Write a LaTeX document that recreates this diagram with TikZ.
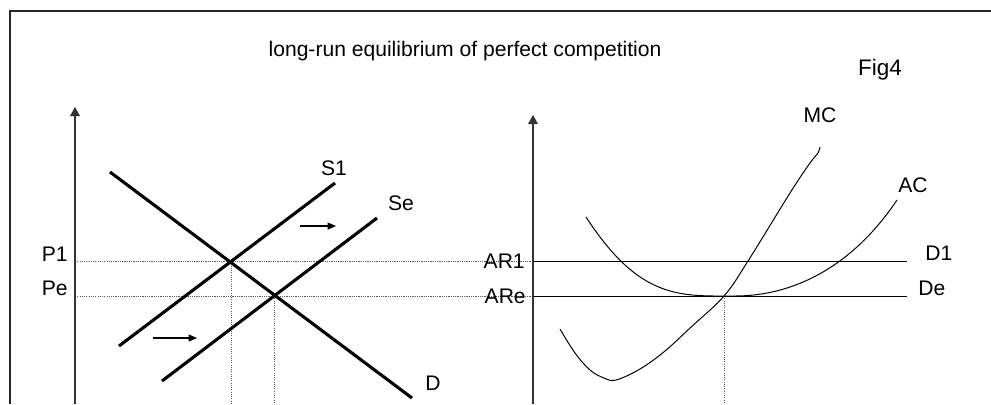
\documentclass[tikz,border=0pt]{standalone}
\usepackage{fontspec}
\setmainfont{Liberation Sans}
\usetikzlibrary{arrows.meta}

\begin{document}
\begin{tikzpicture}[x=0.025cm, y=-0.025cm, every node/.style={font=\fontsize{15}{18}\selectfont, inner sep=0pt},
	axis/.style={line width=0.9pt, draw=black!80, -{Triangle[length=6.5pt, width=7pt]}},
	market/.style={line width=2.2pt},
	shiftarrow/.style={line width=0.75pt, -{Triangle[length=6pt, width=5pt]}},
	cost/.style={line width=0.7pt},
	guide/.style={line width=0.6pt, draw=black!65, dash pattern=on 0.8pt off 0.8pt}]
	\useasboundingbox (0,0) rectangle (991,404);
	\draw[line width=1.4pt, draw=black!85] (10,404) -- (10,11) -- (991,11);
	\node[anchor=base] (title) at (465,56) {long-run equilibrium of perfect competition};
	\node[anchor=base, font=\fontsize{16}{19}\selectfont] (fig) at (880,75) {Fig4};
	\coordinate (O1) at (75,404);
	\coordinate (Y1) at (75,107);
	\coordinate (E1) at (231,261);
	\coordinate (Ee) at (274,296);
	\coordinate (O2) at (533,404);
	\coordinate (Y2) at (533,115);
	\coordinate (A1) at (533,261);
	\coordinate (Ae) at (533,296);
	\coordinate (B1) at (907,261);
	\coordinate (Be) at (907,296);
	\coordinate (Q2) at (724,296);
	\draw[guide] (O1 |- E1) -- (A1);
	\draw[guide] (O1 |- Ee) -- (Ae);
	\draw[guide] (E1) -- (E1 |- O1);
	\draw[guide] (Ee) -- (Ee |- O1);
	\draw[guide] (Q2) -- (Q2 |- O2);
	\draw[axis] (O1) -- (Y1);
	\draw[axis] (O2) -- (Y2);
	\coordinate (d0) at (110,172);
	\coordinate (d1) at (412,398);
	\coordinate (s0) at (119,346);
	\coordinate (s1) at (335,183);
	\coordinate (t0) at (162,381);
	\coordinate (t1) at (377,218);
	\draw[market] (d0) -- (d1);
	\draw[market] (s0) -- (s1);
	\draw[market] (t0) -- (t1);
	\coordinate (u0) at (300,226);
	\coordinate (u1) at (336,226);
	\coordinate (v0) at (153,338);
	\coordinate (v1) at (197,338);
	\draw[shiftarrow] (u0) -- (u1);
	\draw[shiftarrow] (v0) -- (v1);
	\node[anchor=base] (lS1) at (334,175) {S1};
	\node[anchor=base] (lSe) at (401,210) {Se};
	\node[anchor=base west] (lD) at (425,390) {D};
	\node[anchor=base east] (lP1) at (68,261) {P1};
	\node[anchor=base east] (lPe) at (68,295) {Pe};
	\draw[cost] (A1) -- (B1);
	\draw[cost] (Ae) -- (Be);
	\node[anchor=base east] (lAR1) at (525,268) {AR1};
	\node[anchor=base east] (lARe) at (526,303) {ARe};
	\node[anchor=base west] (lD1) at (925,260) {D1};
	\node[anchor=base west] (lDe) at (918,295) {De};
	\draw[cost] plot[smooth, tension=0.6] coordinates {(560,329) (575,353) (590,370) (604,378) (616,380) (640,369) (665,351) (690,328) (724,296) (748,261) (790,193) (810,163) (818,153) (820,147)};
	\draw[cost] (586,217) .. controls (640,300) and (680,296) .. (735,296) .. controls (790,296) and (850,270) .. (897,200);
	\node[anchor=base] (lMC) at (820,122) {MC};
	\node[anchor=base] (lAC) at (913,192) {AC};
\end{tikzpicture}
\end{document}
